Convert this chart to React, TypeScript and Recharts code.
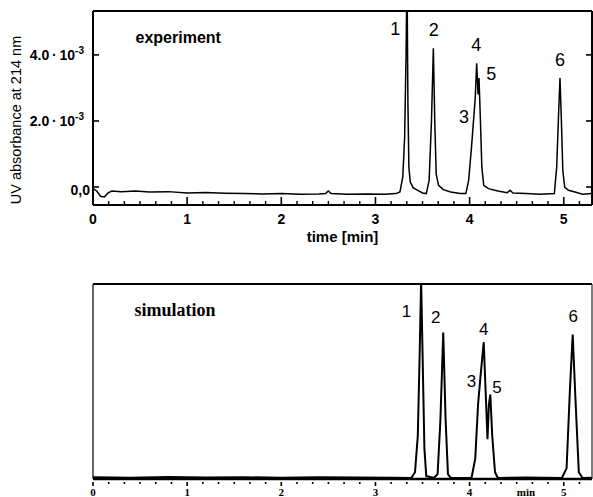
import React from 'react';
import { LineChart, Line, XAxis, YAxis, ReferenceDot, Label } from 'recharts';

// ---------- experiment (UV absorbance, units of 10^-3) ----------
const expTime = [
  0, 0.04, 0.08, 0.12, 0.16, 0.2, 0.3, 0.45, 0.6, 0.8, 1.0, 1.2, 1.4, 1.6, 1.8, 2.0, 2.2, 2.4, 2.47, 2.5, 2.53,
  2.7, 2.9, 3.1, 3.22, 3.26, 3.29, 3.31, 3.325, 3.335, 3.345, 3.355, 3.37, 3.4, 3.45, 3.5, 3.54, 3.57, 3.595,
  3.615, 3.63, 3.645, 3.67, 3.72, 3.8, 3.9, 3.96, 3.99, 4.02, 4.04, 4.06, 4.075, 4.09, 4.1, 4.115, 4.13, 4.15,
  4.2, 4.3, 4.4, 4.43, 4.46, 4.6, 4.75, 4.9, 4.925, 4.945, 4.96, 4.975, 4.99, 5.01, 5.05, 5.12, 5.2, 5.3,
];
const expAbs = [
  -0.05, -0.12, -0.28, -0.3, -0.18, -0.12, -0.14, -0.12, -0.15, -0.14, -0.18, -0.17, -0.19, -0.2, -0.21, -0.2, -0.22, -0.21, -0.2, -0.12, -0.2,
  -0.22, -0.21, -0.22, -0.2, -0.15, 0.3, 1.5, 4.0, 6.5, 2.5, 0.6, 0.15, -0.02, -0.1, -0.18, -0.2, 0.2, 2.0,
  4.2, 2.0, 0.4, 0.05, -0.08, -0.15, -0.2, -0.2, 0.2, 1.2, 1.95, 2.7, 3.75, 2.8, 3.3, 2.0, 0.6, 0.05,
  -0.05, -0.12, -0.17, -0.1, -0.18, -0.2, -0.22, -0.2, 0.6, 2.2, 3.3, 2.0, 0.5, 0.0, -0.1, -0.15, -0.22, -0.2,
];

// ---------- simulation (normalised signal) ----------
const simTime = [
  0, 0.4, 0.8, 1.2, 1.6, 2.0, 2.4, 2.8, 3.2, 3.38, 3.42, 3.45, 3.47, 3.485, 3.5, 3.52, 3.54, 3.62, 3.66, 3.69,
  3.72, 3.745, 3.77, 3.8, 4.02, 4.06, 4.09, 4.115, 4.15, 4.17, 4.19, 4.205, 4.22, 4.24, 4.27, 4.3, 4.6, 4.98,
  5.03, 5.065, 5.095, 5.125, 5.16, 5.2, 5.3,
];
const simSignal = [
  0.004, 0.002, 0.005, 0.003, 0.004, 0.002, 0.004, 0.003, 0.002, 0, 0.03, 0.22, 0.65, 1.02, 0.65, 0.15, 0.01, 0, 0.02, 0.3,
  0.75, 0.3, 0.02, 0, 0, 0.1, 0.38, 0.52, 0.7, 0.45, 0.2, 0.38, 0.43, 0.22, 0.03, 0, 0.003, 0,
  0.05, 0.45, 0.74, 0.4, 0.03, 0, 0.002,
];

// ---------- ticks & labels ----------
const timeDomain: [number, number] = [0, 5.3];
const minorPerMinute = 6;
const absTicks = [0, 2, 4];
const absTickLabels = ['0,0', '2.0\u2009·\u200910', '4.0\u2009·\u200910'];
const expPeakTime = [3.21, 3.62, 3.94, 4.07, 4.23, 4.96];
const expPeakLevel = [4.79, 4.76, 2.12, 4.3, 3.45, 3.85];
const simPeakTime = [3.33, 3.64, 4.02, 4.15, 4.29, 5.1];
const simPeakLevel = [0.86, 0.83, 0.5, 0.77, 0.47, 0.835];
const peakNames = ['1', '2', '3', '4', '5', '6'];

const allTimeTicks: number[] = [];
for (let i = 0; i <= 5.3 * minorPerMinute; i++) allTimeTicks.push(i / minorPerMinute);

const expData = expTime.map((t, i) => ({ t, v: expAbs[i] }));
const simData = simTime.map((t, i) => ({ t, v: simSignal[i] }));

const SANS = '"Liberation Sans", Arial, Helvetica, sans-serif';
const SERIF = '"Liberation Serif", "Times New Roman", Times, serif';

const isMajor = (v: number) => Math.abs(v - Math.round(v)) < 1e-6;

const textLabel = (text: string, family: string, size: number, weight: string) => (lp: any) => {
  const vb = lp.viewBox || {};
  const cx = (vb.x ?? 0) + (vb.width ?? 0) / 2;
  const cy = (vb.y ?? 0) + (vb.height ?? 0) / 2;
  return (
    <text x={cx} y={cy} dy="0.36em" textAnchor="middle" fontFamily={family} fontSize={size} fontWeight={weight} fill="#000">
      {text}
    </text>
  );
};

const ExpXTick = (p: any) => {
  const { x, y, payload } = p;
  const major = isMajor(payload.value);
  return (
    <g>
      <line x1={x} x2={x} y1={y} y2={y - (major ? 8 : 4)} stroke="#000" strokeWidth={major ? 1.6 : 1.4} />
      {major && (
        <text x={x} y={y + 19} textAnchor="middle" fontFamily={SANS} fontWeight="bold" fontSize={14} fill="#000">
          {Math.round(payload.value)}
        </text>
      )}
    </g>
  );
};

const SimXTick = (p: any) => {
  const { x, y, payload } = p;
  const major = isMajor(payload.value);
  return (
    <g>
      <line x1={x} x2={x} y1={y + 3} y2={y + (major ? 7 : 5)} stroke="#000" strokeWidth={1.6} />
      {major && (
        <text x={x} y={y + 17} textAnchor="middle" fontFamily={SERIF} fontWeight="bold" fontSize={11} fill="#000">
          {Math.round(payload.value)}
        </text>
      )}
    </g>
  );
};

const ExpYTick = (p: any) => {
  const { x, y, payload } = p;
  const idx = absTicks.indexOf(payload.value);
  const label = absTickLabels[idx];
  const zero = payload.value === 0;
  return (
    <g>
      <line x1={x} x2={x + 6} y1={y} y2={y} stroke="#000" strokeWidth={1.6} />
      <text
        x={zero ? x - 3 : x - 9}
        y={y + (zero ? 3 : 0)}
        dy="0.38em"
        textAnchor="end"
        fontFamily={SANS}
        fontWeight="bold"
        fontSize={14}
        fill="#000"
      >
        {label}
        {!zero && (
          <tspan dy={-6} fontSize={10}>
            -3
          </tspan>
        )}
      </text>
    </g>
  );
};

const RightYTick = (p: any) => {
  const { x, y } = p;
  return <line x1={x} x2={x - 6} y1={y} y2={y} stroke="#000" strokeWidth={1.6} />;
};

export default function App() {
  return (
    <div style={{ position: 'absolute', left: 0, top: 0, width: 593, height: 497, background: '#fff' }}>
      <LineChart width={593} height={250} data={expData} margin={{ top: 10, right: 0, bottom: 0, left: 0 }}>
        <XAxis
          dataKey="t"
          type="number"
          domain={timeDomain}
          ticks={allTimeTicks}
          interval={0}
          allowDataOverflow
          height={45}
          tickSize={0}
          tickMargin={0}
          tickLine={false}
          axisLine={{ stroke: '#000', strokeWidth: 2 }}
          tick={(p: any) => <ExpXTick {...p} />}
        >
          <Label
            content={(lp: any) => {
              const vb = lp.viewBox;
              return (
                <text
                  x={vb.x + vb.width / 2}
                  y={vb.y + 37}
                  textAnchor="middle"
                  fontFamily={SANS}
                  fontWeight="bold"
                  fontSize={15}
                  fill="#000"
                >
                  time [min]
                </text>
              );
            }}
          />
        </XAxis>
        <XAxis
          xAxisId="top"
          dataKey="t"
          type="number"
          orientation="top"
          domain={timeDomain}
          allowDataOverflow
          height={1}
          tick={false}
          tickLine={false}
          axisLine={{ stroke: '#000', strokeWidth: 2 }}
        />
        <YAxis
          type="number"
          domain={[-0.545, 5.33]}
          allowDataOverflow
          ticks={absTicks}
          interval={0}
          width={93}
          tickSize={0}
          tickMargin={0}
          tickLine={false}
          axisLine={{ stroke: '#000', strokeWidth: 2 }}
          tick={(p: any) => <ExpYTick {...p} />}
        >
          <Label
            content={(lp: any) => {
              const vb = lp.viewBox;
              const cx = 16;
              const cy = vb.y + vb.height / 2 + 12;
              return (
                <text
                  transform={`translate(${cx}, ${cy}) rotate(-90)`}
                  textAnchor="middle"
                  dy="0.35em"
                  fontFamily={SANS}
                  fontSize={14.5}
                  fill="#000"
                >
                  UV absorbance at 214 nm
                </text>
              );
            }}
          />
        </YAxis>
        <YAxis
          yAxisId="right"
          orientation="right"
          type="number"
          domain={[-0.545, 5.33]}
          allowDataOverflow
          ticks={absTicks}
          interval={0}
          width={1}
          tickSize={0}
          tickMargin={0}
          tickLine={false}
          axisLine={{ stroke: '#000', strokeWidth: 2 }}
          tick={(p: any) => <RightYTick {...p} />}
        />
        <Line xAxisId="top" yAxisId="right" dataKey="v" stroke="none" dot={false} isAnimationActive={false} />
        <Line dataKey="v" stroke="#000" strokeWidth={1.5} dot={false} isAnimationActive={false} type="linear" />
        <ReferenceDot
          x={0.905}
          y={4.55}
          r={0}
          stroke="none"
          label={{ content: textLabel('experiment', SANS, 16, 'bold') }}
        />
        {peakNames.map((n, i) => (
          <ReferenceDot
            key={'e' + n}
            x={expPeakTime[i]}
            y={expPeakLevel[i]}
            r={0}
            stroke="none"
            label={{ content: textLabel(n, SANS, 18, 'normal') }}
          />
        ))}
      </LineChart>

      <LineChart width={593} height={247} data={simData} margin={{ top: 33, right: 0, bottom: 0, left: 0 }}>
        <XAxis
          dataKey="t"
          type="number"
          domain={timeDomain}
          ticks={allTimeTicks}
          interval={0}
          allowDataOverflow
          height={18}
          tickSize={0}
          tickMargin={0}
          tickLine={false}
          axisLine={{ stroke: '#000', strokeWidth: 2.5 }}
          tick={(p: any) => <SimXTick {...p} />}
        >
          <Label
            content={(lp: any) => {
              const vb = lp.viewBox;
              return (
                <text
                  x={vb.x + vb.width - 66}
                  y={vb.y + 17}
                  textAnchor="middle"
                  fontFamily={SERIF}
                  fontWeight="bold"
                  fontSize={11}
                  fill="#000"
                >
                  min
                </text>
              );
            }}
          />
        </XAxis>
        <XAxis
          xAxisId="top"
          dataKey="t"
          type="number"
          orientation="top"
          domain={timeDomain}
          allowDataOverflow
          height={1}
          tick={false}
          tickLine={false}
          axisLine={{ stroke: '#000', strokeWidth: 2 }}
        />
        <YAxis
          type="number"
          domain={[-0.005, 1.0]}
          allowDataOverflow
          width={93}
          tick={false}
          tickLine={false}
          axisLine={{ stroke: '#000', strokeWidth: 1.2 }}
        />
        <YAxis
          yAxisId="right"
          orientation="right"
          type="number"
          domain={[-0.005, 1.0]}
          allowDataOverflow
          width={1}
          tick={false}
          tickLine={false}
          axisLine={{ stroke: '#000', strokeWidth: 1 }}
        />
        <Line xAxisId="top" yAxisId="right" dataKey="v" stroke="none" dot={false} isAnimationActive={false} />
        <Line dataKey="v" stroke="#000" strokeWidth={2} dot={false} isAnimationActive={false} type="linear" />
        <ReferenceDot
          x={0.87}
          y={0.87}
          r={0}
          stroke="none"
          label={{ content: textLabel('simulation', SERIF, 18, 'bold') }}
        />
        {peakNames.map((n, i) => (
          <ReferenceDot
            key={'s' + n}
            x={simPeakTime[i]}
            y={simPeakLevel[i]}
            r={0}
            stroke="none"
            label={{ content: textLabel(n, SANS, 17, 'normal') }}
          />
        ))}
      </LineChart>
    </div>
  );
}
